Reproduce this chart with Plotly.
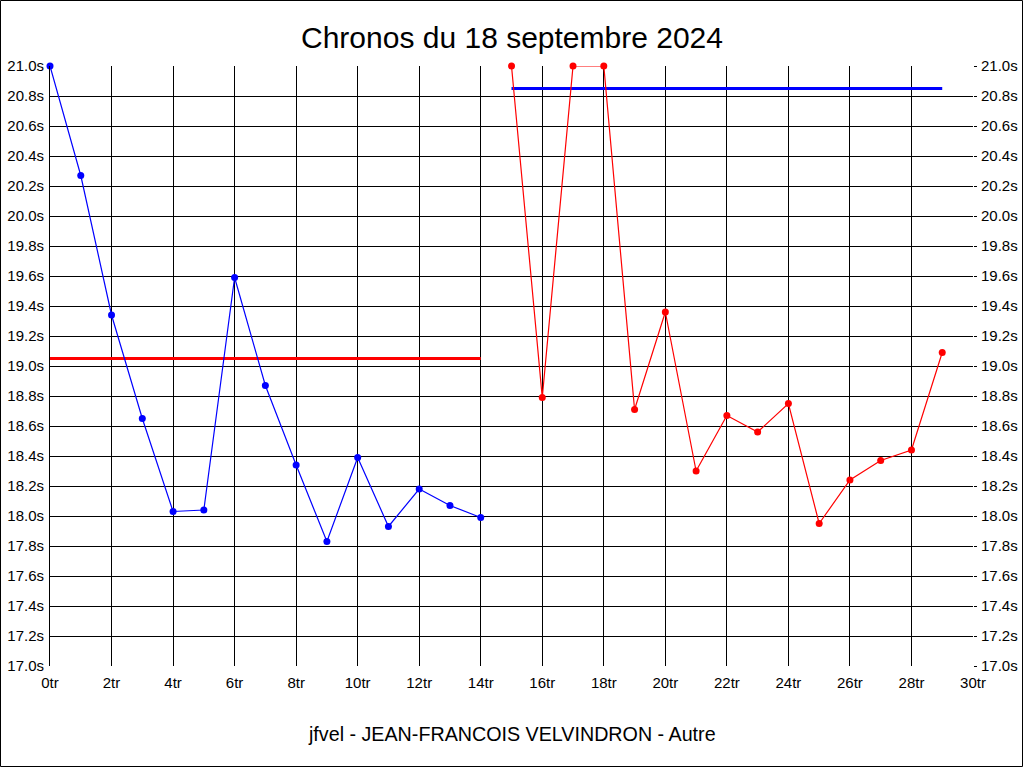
import plotly.graph_objects as go

title = "Chronos du 18 septembre 2024"
subtitle = "jfvel - JEAN-FRANCOIS VELVINDRON - Autre"

laps_blue = list(range(0, 15))
times_blue = [21.0, 20.27, 19.34, 18.65, 18.03, 18.04, 19.59, 18.87, 18.34, 17.83,
              18.39, 17.93, 18.18, 18.07, 17.99]

laps_red = list(range(15, 30))
times_red = [21.0, 18.79, 21.0, 21.0, 18.71, 19.36, 18.30, 18.67, 18.56, 18.75,
             17.95, 18.24, 18.37, 18.44, 19.09]

avg_red_x = [0, 14]
avg_red_y = [19.05, 19.05]
avg_blue_x = [15, 29]
avg_blue_y = [20.85, 20.85]

x_ticks = list(range(0, 31, 2))
x_labels = [f"{v}tr" for v in x_ticks]
y_ticks = [round(17.0 + 0.2 * i, 1) for i in range(21)]
y_labels = [f"{v:.1f}s" for v in y_ticks]

W, H = 1024, 768
L, R, T, B = 50, 51, 66, 102
pw, ph = W - L - R, H - T - B

fig = go.Figure()
fig.add_trace(go.Scatter(x=avg_red_x, y=avg_red_y, mode="lines",
                         line=dict(color="#ff0000", width=3), showlegend=False, hoverinfo="skip"))
fig.add_trace(go.Scatter(x=avg_blue_x, y=avg_blue_y, mode="lines",
                         line=dict(color="#0000ff", width=3), showlegend=False, hoverinfo="skip"))
fig.add_trace(go.Scatter(x=laps_blue, y=times_blue, mode="lines+markers",
                         line=dict(color="#0000ff", width=1.2),
                         marker=dict(color="#0000ff", size=7), cliponaxis=False, showlegend=False))
fig.add_trace(go.Scatter(x=laps_red, y=times_red, mode="lines+markers",
                         line=dict(color="#ff0000", width=1.2),
                         marker=dict(color="#ff0000", size=7), cliponaxis=False, showlegend=False))
# invisible trace carrying the right axis and the last x label
fig.add_trace(go.Scatter(x=[0], y=[17.0], xaxis="x2", yaxis="y2", mode="markers",
                         marker=dict(opacity=0), showlegend=False, hoverinfo="skip"))

font = "Liberation Sans, Arial, sans-serif"
fig.update_layout(
    width=W, height=H,
    margin=dict(l=L, r=R, t=T, b=B, autoexpand=False),
    paper_bgcolor="white", plot_bgcolor="white",
    font=dict(family=font, color="black", size=15),
    title=dict(text=title, x=0.5, xanchor="center", y=1 - 37 / H, yanchor="middle",
               font=dict(size=30, family=font, color="black")),
    xaxis=dict(range=[0, 30], tickvals=x_ticks[:-1], ticktext=x_labels[:-1],
               showgrid=True, gridcolor="black", gridwidth=1, zeroline=False,
               showline=False, ticks="", ticklabelstandoff=6, tickfont=dict(size=15),
               automargin=False),
    xaxis2=dict(range=[0, 30], tickvals=x_ticks[-1:], ticktext=x_labels[-1:],
                overlaying="x", side="bottom", showgrid=False, zeroline=False,
                showline=False, ticks="", ticklabelstandoff=6, tickfont=dict(size=15),
                automargin=False),
    yaxis=dict(range=[17.0, 21.0], tickvals=y_ticks, ticktext=y_labels,
               showgrid=True, gridcolor="black", gridwidth=1, zeroline=False,
               showline=True, linecolor="black", linewidth=1, automargin=False,
               ticks="", ticklabelstandoff=2, tickfont=dict(size=15)),
    yaxis2=dict(range=[17.0, 21.0], tickvals=y_ticks, ticktext=y_labels, overlaying="y",
                side="right", showgrid=False, zeroline=False, showline=False, automargin=False,
                ticks="outside", ticklen=3, tickcolor="black", ticklabelstandoff=1,
                tickfont=dict(size=15)),
    annotations=[dict(text=subtitle, xref="paper", yref="paper", x=0.5,
                      y=-(734 - T - ph) / ph, xanchor="center", yanchor="middle",
                      showarrow=False, font=dict(size=19.7, family=font, color="black"))],
    shapes=[dict(type="rect", xref="paper", yref="paper",
                 x0=-(L - 0.5) / pw, x1=1 + (R - 1.5) / pw,
                 y0=-(B - 1.5) / ph, y1=1 + (T - 0.5) / ph,
                 line=dict(color="black", width=1), layer="above")],
)
fig.write_html("out.html", config={"displayModeBar": False},
               post_script="document.body.style.margin='0px';")
